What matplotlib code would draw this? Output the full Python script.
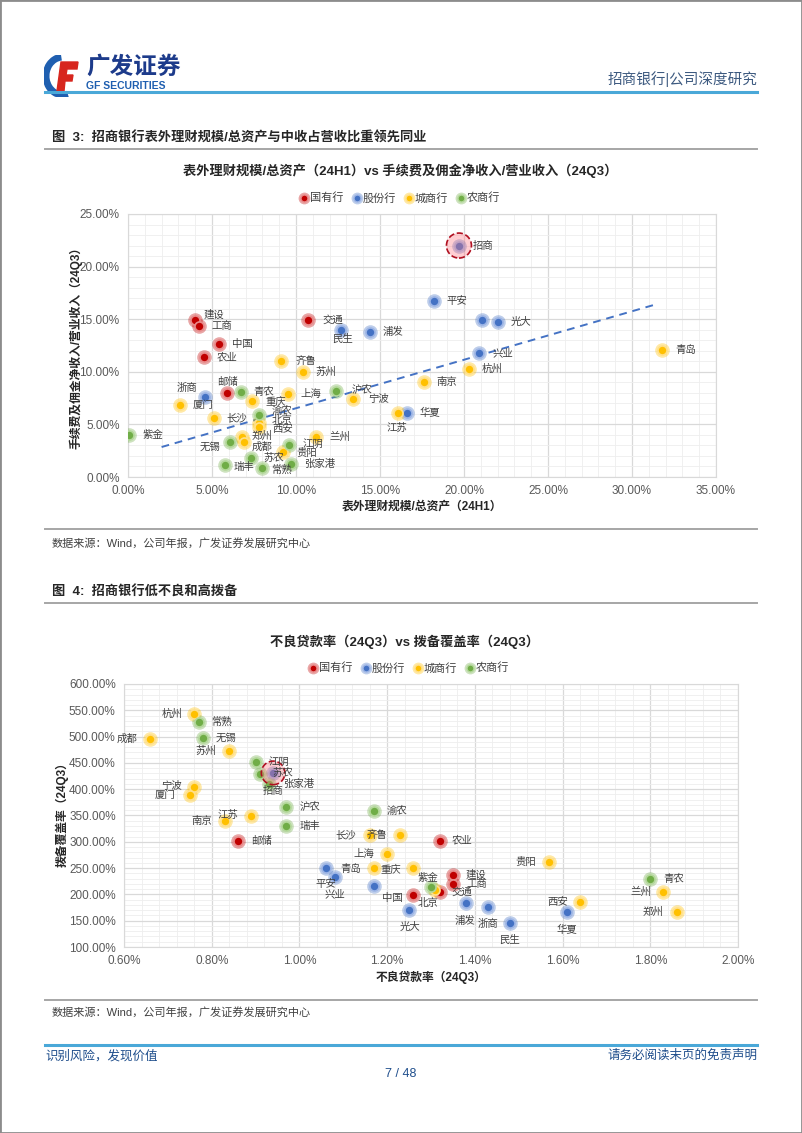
import numpy as np
import matplotlib.pyplot as plt
from matplotlib.patches import Rectangle, Arc, Polygon
from matplotlib.lines import Line2D
from matplotlib.ticker import MultipleLocator, FuncFormatter

plt.rcParams['font.family'] = ['Liberation Sans', 'Noto Sans CJK SC']

W, H = 802, 1133

groups = ['国有行', '股份行', '城商行', '农商行']
group_colors = ['#c00000', '#4472c4', '#ffc000', '#70ad47']
group_light = ['#e88a8a', '#9db5e6', '#ffe08a', '#b3d89a']

# ---- chart 1: 表外理财规模/总资产 (%) vs 手续费及佣金净收入/营业收入 (%)
c1_names = ['招商', '平安', '', '光大', '兴业', '华夏', '民生', '浦发', '浙商',
            '建设', '工商', '中国', '交通', '农业', '邮储',
            '青岛', '杭州', '南京', '江苏', '齐鲁', '苏州', '厦门', '重庆', '上海',
            '长沙', '北京', '西安', '郑州', '成都', '兰州', '贵阳', '宁波',
            '青农', '渝农', '紫金', '无锡', '江阴', '苏农', '瑞丰', '常熟', '张家港', '沪农']
c1_group = [1] * 9 + [0] * 6 + [2] * 17 + [3] * 10
c1_wmp = [19.7, 18.2, 21.1, 22.0, 20.9, 16.6, 12.7, 14.4, 4.6,
          4.0, 4.2, 5.4, 10.7, 4.5, 5.9,
          31.8, 20.3, 17.6, 16.1, 9.1, 10.4, 3.1, 7.4, 9.5,
          5.1, 7.8, 7.8, 6.8, 6.9, 11.2, 9.2, 13.4,
          6.7, 7.8, 0.05, 6.1, 9.6, 7.3, 5.8, 8.0, 9.7, 12.4]
c1_fee = [22.0, 16.7, 14.9, 14.7, 11.8, 6.1, 14.0, 13.8, 7.6,
          14.9, 14.4, 12.6, 14.9, 11.4, 8.0,
          12.1, 10.3, 9.0, 6.1, 11.0, 10.0, 6.8, 7.2, 7.9,
          5.6, 5.1, 4.75, 3.8, 3.3, 3.8, 2.4, 7.4,
          8.1, 5.9, 4.0, 3.3, 3.0, 1.8, 1.1, 0.85, 1.2, 8.2]
trend_x = [2.0, 31.4]
trend_y = [2.85, 16.4]

# ---- chart 2: 不良贷款率 (%) vs 拨备覆盖率 (%)
c2_names = ['招商', '平安', '兴业', '', '光大', '浦发', '浙商', '民生', '华夏',
            '建设', '工商', '中国', '交通', '农业', '邮储',
            '杭州', '成都', '苏州', '宁波', '厦门', '南京', '江苏', '长沙', '齐鲁',
            '上海', '青岛', '重庆', '北京', '贵阳', '西安', '兰州', '郑州',
            '常熟', '无锡', '江阴', '苏农', '张家港', '沪农', '瑞丰', '渝农', '紫金', '青农']
c2_group = [1] * 9 + [0] * 6 + [2] * 17 + [3] * 10
c2_npl = [0.94, 1.061, 1.08, 1.17, 1.25, 1.38, 1.43, 1.48, 1.61,
          1.35, 1.35, 1.26, 1.32, 1.32, 0.86,
          0.76, 0.66, 0.84, 0.76, 0.75, 0.83, 0.89, 1.16, 1.23,
          1.20, 1.17, 1.26, 1.31, 1.57, 1.64, 1.83, 1.86,
          0.77, 0.78, 0.90, 0.91, 0.93, 0.97, 0.97, 1.17, 1.30, 1.80]
c2_cov = [431, 250, 233, 216, 171, 184, 176, 146, 166,
          237, 220, 199, 204, 302, 301,
          543, 495, 473, 404, 389, 340, 349, 313, 313,
          277, 250, 250, 208, 262, 186, 205, 166,
          528, 497, 452, 429, 410, 366, 330, 358, 214, 229]

# label placement (offset pixels, alignment)
c1_offsets = {'招商': (14, 0, 'left'), '江苏': (-2, -15, 'center'), '建设': (8, 6, 'left'),
              '民生': (1, -9, 'center'), '浙商': (-18, 9, 'center'), '邮储': (0, 11, 'center'),
              '渝农': (13, 4, 'left'), '北京': (13, 3, 'left'), '西安': (13, -2, 'left'),
              '郑州': (9, 1, 'left'), '成都': (8, -5, 'left'), '无锡': (-10, -4, 'right'),
              '瑞丰': (8, -2, 'left'), '常熟': (9, -2, 'left'), '沪农': (15, 1, 'left'),
              '宁波': (15, 0, 'left'), '交通': (15, 0, 'left'), '齐鲁': (15, 0, 'left'),
              '紫金': (14, 0, 'left'), '江阴': (13, 2, 'left'), '贵阳': (14, -1, 'left')}
c2_offsets = {'杭州': (-12, 0, 'right'), '成都': (-13, 0, 'right'), '苏州': (-13, 0, 'right'),
              '苏农': (12, 1, 'left'), '张家港': (14, 0, 'left'), '招商': (0, -18, 'center'),
              '宁波': (-12, 1, 'right'), '厦门': (-14, 0, 'right'), '南京': (-13, 0, 'right'),
              '江苏': (-13, 1, 'right'), '长沙': (-13, 0, 'right'), '齐鲁': (-13, 0, 'right'),
              '上海': (-13, 0, 'right'), '平安': (0, -16, 'center'), '兴业': (0, -17, 'center'),
              '青岛': (-13, -1, 'right'), '重庆': (-12, -1, 'right'), '中国': (-11, -3, 'right'),
              '光大': (1, -17, 'center'), '紫金': (-3, 9, 'center'), '北京': (-7, -13, 'center'),
              '交通': (12, 0, 'left'), '浦发': (-1, -18, 'center'), '浙商': (0, -17, 'center'),
              '民生': (0, -17, 'center'), '贵阳': (-13, 0, 'right'), '西安': (-12, 0, 'right'),
              '华夏': (0, -18, 'center'), '兰州': (-12, 0, 'right'), '郑州': (-13, 0, 'right'),
              '工商': (14, 0, 'left'), '农业': (12, 0, 'left')}


def fx(px):
    return px / W


def fy(py):
    return 1 - py / H


def pct_fmt(v, pos):
    return '{:.2f}%'.format(v)


def draw_points(ax, xs, ys, gs):
    xs, ys, gs = np.array(xs), np.array(ys), np.array(gs)
    for g in range(4):
        m = gs == g
        ax.plot(xs[m], ys[m], 'o', ms=10.5, color=group_colors[g], alpha=0.35, mew=0, zorder=3)
        ax.plot(xs[m], ys[m], 'o', ms=6.5, mfc=group_colors[g], mec=group_light[g], mew=1.2, zorder=4)


def draw_labels(ax, names, xs, ys, offsets):
    for n, x, y in zip(names, xs, ys):
        if not n:
            continue
        dx, dy, ha = offsets.get(n, (13, 0, 'left'))
        ax.annotate(n, (x, y), xytext=(dx, dy), textcoords='offset pixels',
                    ha=ha, va='center', fontsize=7.5, color='#404040', zorder=6)


def highlight(ax, x, y, size):
    ax.scatter([x], [y], s=size ** 2, facecolor=(1.0, 0.45, 0.5, 0.35),
               edgecolor='#b01020', linestyle='--', linewidth=1.2, zorder=5)


def style_axes(ax, xmaj, xmin, ymaj, ymin):
    ax.xaxis.set_major_locator(MultipleLocator(xmaj))
    ax.xaxis.set_minor_locator(MultipleLocator(xmin))
    ax.yaxis.set_major_locator(MultipleLocator(ymaj))
    ax.yaxis.set_minor_locator(MultipleLocator(ymin))
    ax.grid(which='major', color='#d9d9d9', lw=0.9, zorder=0)
    ax.grid(which='minor', color='#eeeeee', lw=0.6, zorder=0)
    ax.set_axisbelow(True)
    ax.xaxis.set_major_formatter(FuncFormatter(pct_fmt))
    ax.yaxis.set_major_formatter(FuncFormatter(pct_fmt))
    ax.tick_params(which='both', length=0, labelsize=8.5, labelcolor='#595959', pad=6)
    for s in ax.spines.values():
        s.set_color('#d9d9d9')


def legend(y_px, x_px):
    handles = []
    for g in range(4):
        outer = Line2D([], [], marker='o', ls='', ms=8.5, color=group_colors[g], alpha=0.35, mew=0)
        inner = Line2D([], [], marker='o', ls='', ms=5, mfc=group_colors[g], mec=group_light[g], mew=1)
        handles.append((outer, inner))
    fig.legend(handles, groups, loc='center', bbox_to_anchor=(fx(x_px), fy(y_px)), ncol=4,
               frameon=False, fontsize=8, handlelength=0.8, handletextpad=0.1,
               columnspacing=0.8, labelcolor='#404040')


fig = plt.figure(figsize=(W / 100, H / 100), dpi=100)

# page frame
fig.patches.append(Rectangle((0, 0), 1, 1, transform=fig.transFigure, fill=False,
                             edgecolor='#8c8c8c', lw=2))

# header logo
lax = fig.add_axes([fx(44), fy(97), fx(38), 42 / H])
lax.set_xlim(0, 38)
lax.set_ylim(0, 42)
lax.set_aspect('equal')
lax.axis('off')
lax.add_patch(Arc((19, 21), 34, 38, theta1=95, theta2=285, lw=5, color='#1f5fb0'))
lax.add_patch(Polygon([[13, 6], [20, 6], [21, 16], [28, 16], [29, 22], [22, 22], [23, 28],
                       [33, 28], [34, 35], [17, 35]], closed=True, color='#d7261e'))
fig.text(fx(86), fy(67), '广发证券', fontsize=17, fontweight='bold', color='#1d3b8b', va='center')
fig.text(fx(86), fy(86), 'GF SECURITIES', fontsize=7.5, fontweight='bold', color='#1f5fb0', va='center')
fig.text(fx(757), fy(79), '招商银行|公司深度研究', fontsize=10.5, color='#3d5a80', ha='right', va='center')
fig.add_artist(Line2D([fx(45), fx(757)], [fy(92), fy(92)], color='#4aa8d8', lw=2.2))

# captions and separators
for ypx in (149, 529, 603, 1000):
    fig.add_artist(Line2D([fx(45), fx(757)], [fy(ypx), fy(ypx)], color='#a6a6a6', lw=1.4))
fig.text(fx(52), fy(138), '图  3:  招商银行表外理财规模/总资产与中收占营收比重领先同业',
         fontsize=9.5, fontweight='bold', color='#262626', va='center')
fig.text(fx(52), fy(592), '图  4:  招商银行低不良和高拨备',
         fontsize=9.5, fontweight='bold', color='#262626', va='center')
src = '数据来源：Wind，公司年报，广发证券发展研究中心'
fig.text(fx(52), fy(543), src, fontsize=8, color='#404040', va='center')
fig.text(fx(52), fy(1012), src, fontsize=8, color='#404040', va='center')

# ---- chart 1
ax1 = fig.add_axes([fx(128), fy(477), fx(716 - 128), (477 - 214) / H])
ax1.set_xlim(0, 35)
ax1.set_ylim(0, 25)
style_axes(ax1, 5, 1, 5, 1)
ax1.plot(trend_x, trend_y, ls='--', color='#4472c4', lw=1.4, dashes=(4, 3), zorder=2)
draw_points(ax1, c1_wmp, c1_fee, c1_group)
highlight(ax1, c1_wmp[0], c1_fee[0], 18)
draw_labels(ax1, c1_names, c1_wmp, c1_fee, c1_offsets)
fig.text(fx(400), fy(171), '表外理财规模/总资产（24H1）vs 手续费及佣金净收入/营业收入（24Q3）',
         fontsize=9.5, fontweight='bold', color='#262626', ha='center', va='center')
legend(198, 400)
fig.text(fx(422), fy(507), '表外理财规模/总资产（24H1）', fontsize=8.5, fontweight='bold',
         color='#262626', ha='center', va='center')
fig.text(fx(76), fy(345), '手续费及佣金净收入/营业收入（24Q3）', fontsize=8.5, fontweight='bold',
         color='#262626', ha='center', va='center', rotation=90)

# ---- chart 2
ax2 = fig.add_axes([fx(124), fy(947), fx(738 - 124), (947 - 684) / H])
ax2.set_xlim(0.6, 2.0)
ax2.set_ylim(100, 600)
style_axes(ax2, 0.2, 0.04, 50, 10)
draw_points(ax2, c2_npl, c2_cov, c2_group)
highlight(ax2, c2_npl[0], c2_cov[0], 17)
draw_labels(ax2, c2_names, c2_npl, c2_cov, c2_offsets)
fig.text(fx(404), fy(642), '不良贷款率（24Q3）vs 拨备覆盖率（24Q3）',
         fontsize=9.5, fontweight='bold', color='#262626', ha='center', va='center')
legend(668, 409)
fig.text(fx(431), fy(977), '不良贷款率（24Q3）', fontsize=8.5, fontweight='bold',
         color='#262626', ha='center', va='center')
fig.text(fx(62), fy(812), '拨备覆盖率（24Q3）', fontsize=8.5, fontweight='bold',
         color='#262626', ha='center', va='center', rotation=90)

# footer
fig.add_artist(Line2D([fx(45), fx(757)], [fy(1045), fy(1045)], color='#4aa8d8', lw=2.2))
fig.text(fx(45), fy(1056), '识别风险，发现价值', fontsize=9, color='#1f4e8c', va='center')
fig.text(fx(757), fy(1056), '请务必阅读末页的免责声明', fontsize=9, color='#1f4e8c', ha='right', va='center')
fig.text(fx(401), fy(1074), '7 / 48', fontsize=9, color='#1f4e8c', ha='center', va='center')

fig.savefig('out.png', dpi=100)
